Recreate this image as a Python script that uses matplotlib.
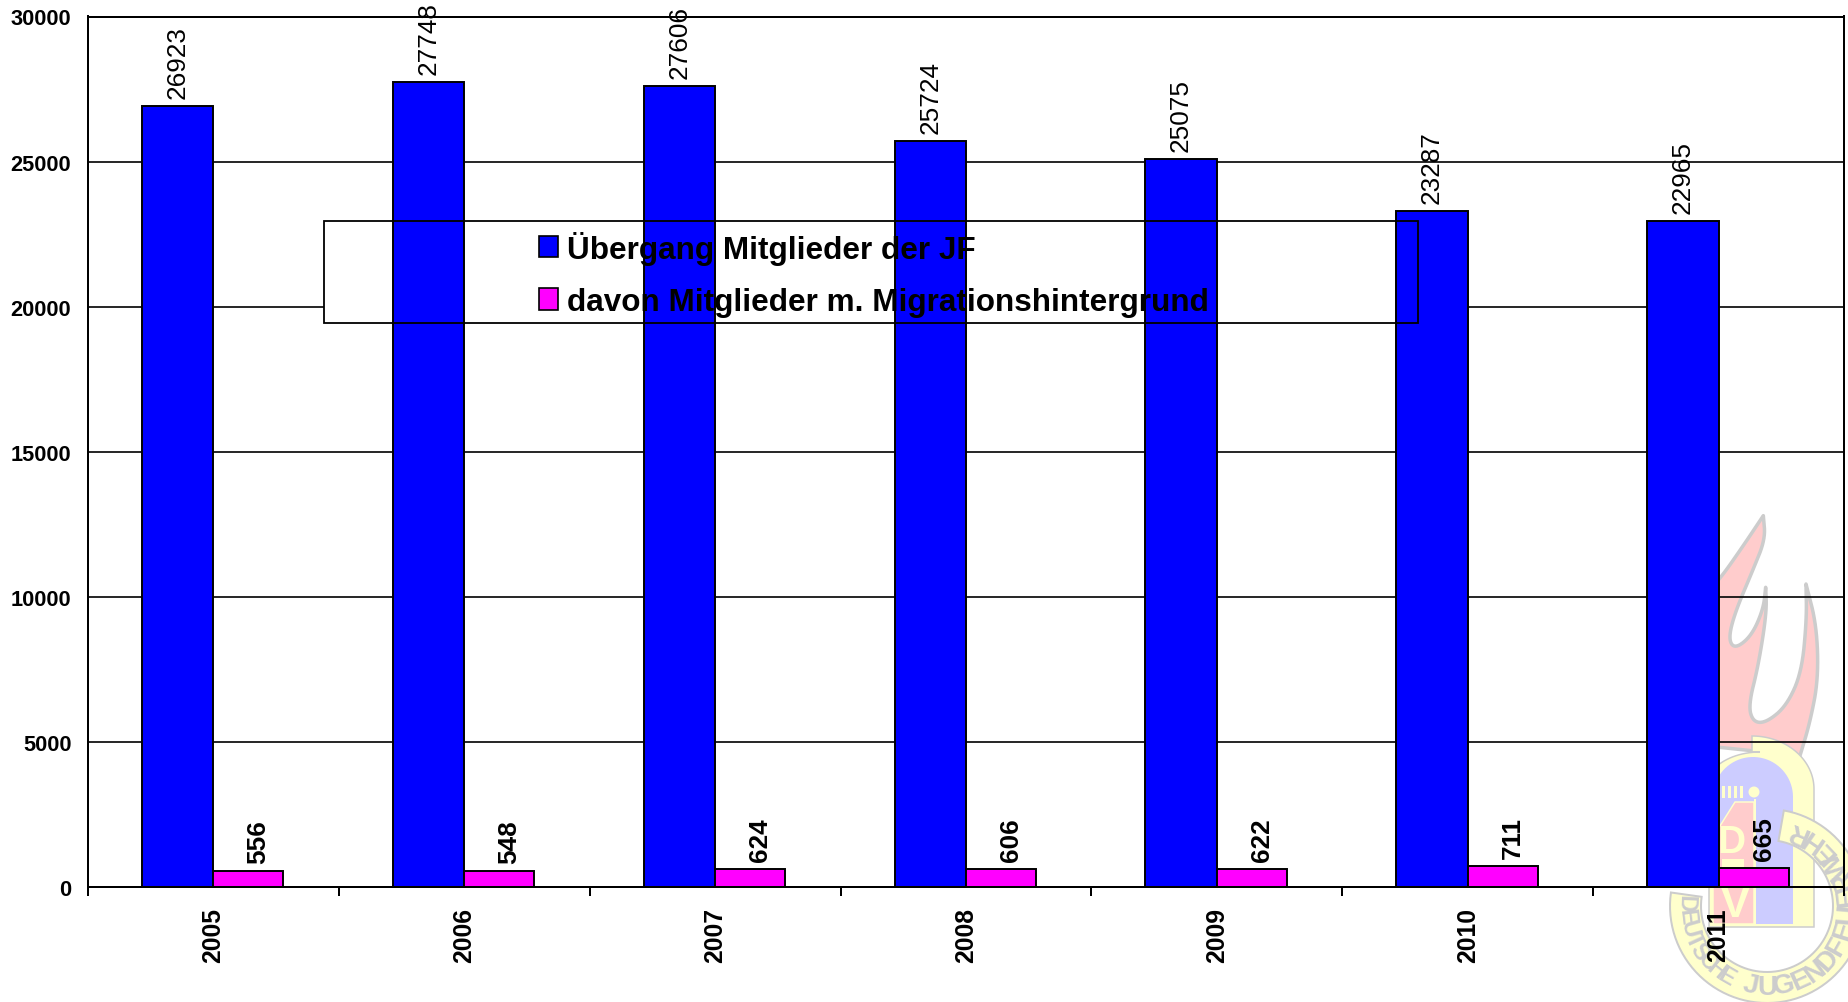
#!/usr/bin/env python3
import matplotlib
matplotlib.use("Agg")
import matplotlib.pyplot as plt
from matplotlib.patches import Patch, Polygon, Rectangle, Circle
import numpy as np

years = ["2005", "2006", "2007", "2008", "2009", "2010", "2011"]
members = [26923, 27748, 27606, 25724, 25075, 23287, 22965]
migration = [556, 548, 624, 606, 622, 711, 665]
series_names = ["Übergang Mitglieder der JF", "davon Mitglieder m. Migrationshintergrund"]
y_ticks = [0, 5000, 10000, 15000, 20000, 25000, 30000]

W, H = 1849, 1003
PT = 0.72  # pixels to points at dpi 100
PINK, YELLOW, LAVENDER, GREY = "#ffcccc", "#ffffcc", "#ccccff", "#cccccc"

plt.rcParams["font.family"] = ["Liberation Sans", "DejaVu Sans"]
fig = plt.figure(figsize=(W / 100, H / 100), dpi=100)


# -------- watermark logo, drawn in pixel coords behind the chart --------
def arc(cx, cy, rx, a0, a1, n=80, ry=None):
    ry = rx if ry is None else ry
    a = np.radians(np.linspace(a0, a1, n))
    return np.column_stack([cx + rx * np.cos(a), cy - ry * np.sin(a)])


def smooth(pts, rounds=3):
    # corner cutting, end points stay put so the flame tips remain sharp
    pts = np.asarray(pts, float)
    for _ in range(rounds):
        q = 0.75 * pts[:-1] + 0.25 * pts[1:]
        r = 0.25 * pts[:-1] + 0.75 * pts[1:]
        mid = np.empty((len(q) * 2, 2))
        mid[0::2], mid[1::2] = q, r
        pts = np.vstack([pts[0], mid, pts[-1]])
    return pts


def draw_logo(bg):
    # flame (traced on the zoomed crop, hence the conversion), one run per tip to tip
    runs = [
        [(250, 800), (250, 350)],
        [(250, 350), (300, 300), (370, 200), (430, 110)],
        [(430, 110), (436, 180), (400, 270), (345, 400), (325, 480), (345, 510), (395, 470), (430, 390), (437, 325)],
        [(437, 325), (440, 400), (415, 560), (385, 680), (400, 730), (440, 730), (500, 680), (545, 580), (560, 420), (558, 315)],
        [(558, 315), (590, 440), (595, 600), (570, 730), (540, 830)],
    ]
    flame = np.vstack([smooth(r) for r in runs])
    flame = np.column_stack([1620 + flame[:, 0] / 3, 480 + flame[:, 1] / 3])
    bg.add_patch(Polygon(flame, closed=True, fc=PINK, ec=GREY, lw=3.5 * PT, joinstyle="round"))

    # shield
    outer = np.vstack([[(1709, 928)], [(1709, 790)], arc(1760, 790, 55, 160, 90, 20, ry=37),
                       [(1752, 753)], [(1752, 737)], arc(1752, 790, 62, 90, 0, 40, ry=53), [(1814, 928)]])
    bg.add_patch(Polygon(outer, closed=True, fc=YELLOW, ec=GREY, lw=1.5 * PT))
    inner = np.vstack([[(1713, 925)], arc(1753, 798, 40, 180, 0, 40), [(1793, 925)]])
    bg.add_patch(Polygon(inner, closed=True, fc=LAVENDER, ec="none"))
    bg.add_patch(Rectangle((1754, 800), 1.5, 125, fc=YELLOW, ec="none"))
    panel = [(1713, 925), (1713, 838), (1735, 803), (1754, 803), (1754, 925)]
    bg.add_patch(Polygon(panel, closed=True, fc=PINK, ec=YELLOW, lw=1.5 * PT))
    for x in (1722, 1728, 1734, 1740):
        bg.add_patch(Rectangle((x, 787), 3, 12, fc=YELLOW, ec="none"))
    bg.add_patch(Circle((1754, 793), 5.5, fc=YELLOW, ec="none"))
    bg.text(1731, 843, "D", color=YELLOW, fontsize=28, fontweight="bold", ha="center", va="center")
    bg.add_patch(Rectangle((1722, 860), 22, 9, fc=YELLOW, ec="none"))
    bg.text(1735, 906, "V", color=YELLOW, fontsize=31, fontweight="bold", ha="center", va="center")

    # ring with the lettering
    cx, cy = 1767, 907
    band = np.vstack([arc(cx, cy, 97, 172, 440), arc(cx, cy, 66, 440, 172)])
    bg.add_patch(Polygon(band, closed=True, fc=YELLOW, ec=GREY, lw=2 * PT))
    word1 = list(zip("DEUTSCHE", 178 + 8.9 * np.arange(8)))
    word2 = list(zip("JUGENDFEUERWEHR", 258 + 12.1 * np.arange(15)))
    for letters, size in ((word1, 17), (word2, 20)):
        for ch, ang in letters:
            x, y = arc(cx, cy, 81, ang, ang, 1)[0]
            bg.text(x, y, ch, color=GREY, fontsize=size, fontweight="bold", ha="center", va="center",
                    rotation=ang - 270, rotation_mode="anchor", clip_on=True)


bg = fig.add_axes([0, 0, 1, 1], zorder=-1)
bg.set_xlim(0, W)
bg.set_ylim(H, 0)
bg.axis("off")
draw_logo(bg)

# -------- main chart --------
left, right, top, bottom = 88, 1844, 17.5, 888
ax = fig.add_axes([left / W, 1 - bottom / H, (right - left) / W, (bottom - top) / H], zorder=1)
ax.patch.set_alpha(0)

x = np.arange(len(years))
bar_w = 0.285
blue_bars = ax.bar(x, members, width=-bar_w, align="edge", color="#0000ff",
                   edgecolor="black", linewidth=1.4, zorder=3, label=series_names[0])
pink_bars = ax.bar(x, migration, width=bar_w * 0.98, align="edge", color="#ff00ff",
                   edgecolor="black", linewidth=1.4, zorder=3, label=series_names[1])

for b, v in zip(blue_bars, members):
    ax.annotate(str(v), (b.get_x() + b.get_width() / 2, v), xytext=(0, 8 * PT),
                textcoords="offset points", rotation=90, ha="center", va="bottom",
                fontsize=18.8, zorder=5)
for b, v in zip(pink_bars, migration):
    ax.annotate(str(v), (b.get_x() + b.get_width() / 2, v), xytext=(10 * PT, 8 * PT),
                textcoords="offset points", rotation=90, ha="center", va="bottom",
                fontsize=18.8, fontweight="bold", zorder=5)

ax.set_xlim(-0.5, len(years) - 0.5)
ax.set_ylim(0, 30000)
ax.set_yticks(y_ticks)
ax.set_yticklabels([str(v) for v in y_ticks], fontsize=15.7, fontweight="bold")
ax.tick_params(axis="y", length=0, pad=12)
ax.yaxis.grid(True, color="black", linewidth=1.2, zorder=0.5)
ax.set_axisbelow(True)

# boundaries get the tick marks, category centres the labels
ax.set_xticks(np.arange(len(years) + 1) - 0.5)
ax.set_xticklabels([])
ax.set_xticks(x, minor=True)
ax.set_xticklabels(years, minor=True, rotation=90, fontsize=17.8, fontweight="bold")
ax.tick_params(axis="x", which="major", length=6.5, width=1.44)
ax.tick_params(axis="x", which="minor", length=0, pad=14.5)

for s in ax.spines.values():
    s.set_linewidth(1.44)
    s.set_zorder(4)


# -------- legend: white fill sits under the bars, frame and text over them --------
def ax_xy(px, py):
    return (px - left) / (right - left), (bottom - py) / (bottom - top)


x0, y1 = ax_xy(324, 324)
x1, y0 = ax_xy(1418, 222)
ax.add_patch(Rectangle((x0, y1), x1 - x0, y0 - y1, transform=ax.transAxes, fc="white", ec="none", zorder=2.5))
ax.add_patch(Rectangle((x0, y1), x1 - x0, y0 - y1, transform=ax.transAxes, fc="none", ec="black",
                       lw=1.3, zorder=4.5))
handles = [Patch(facecolor="#0000ff", edgecolor="black", linewidth=1.2, label=series_names[0]),
           Patch(facecolor="#ff00ff", edgecolor="black", linewidth=1.2, label=series_names[1])]
leg = ax.legend(handles=handles, loc="upper left", bbox_to_anchor=ax_xy(539, 232), frameon=False,
                prop={"size": 22.7, "weight": "bold"}, handlelength=0.6, handleheight=0.65,
                handletextpad=0.28, labelspacing=0.7, borderpad=0, borderaxespad=0)
leg.set_zorder(6)

fig.savefig("out.png", dpi=100)
plt.close(fig)
